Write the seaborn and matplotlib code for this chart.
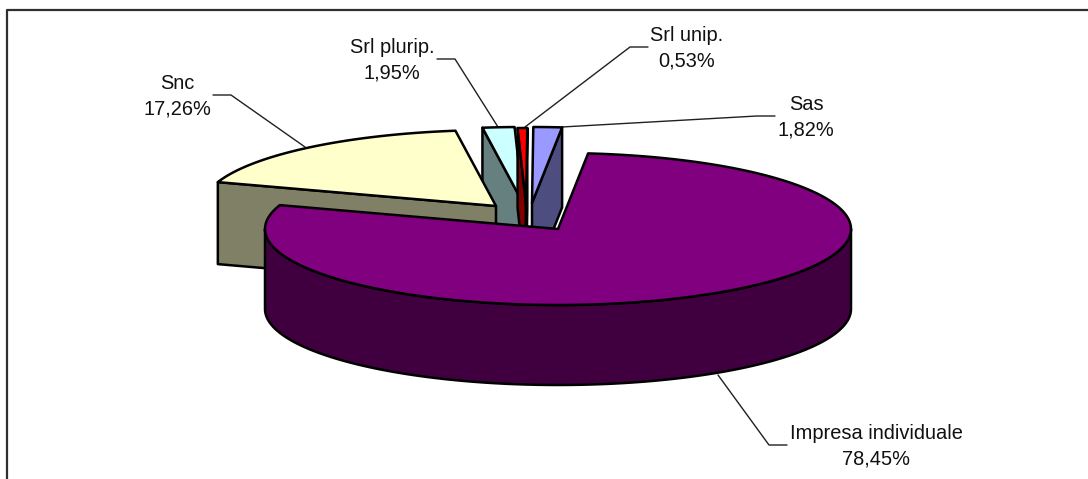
import numpy as np
import matplotlib
matplotlib.use("Agg")
import matplotlib.pyplot as plt
from matplotlib.patches import Polygon
import seaborn as sns

names = ["Impresa individuale", "Snc", "Srl plurip.", "Srl unip.", "Sas"]
shares = [78.45, 17.26, 1.95, 0.53, 1.82]
top_colors = ["#800080", "#FFFFCC", "#CCFFFF", "#FF0000", "#9999FF"]

# pixel layout of the exploded pie
apex_x = [558, 496, 523, 526, 532]
apex_y = [229, 206, 203, 204, 203]
depth = [80, 82, 80, 80, 80]
RX, RY = 293, 76
START = 5.9
# excel bends the small slices a bit, so edges get nudged (deg)
edge_shift = [0, 0, 1.6, 0.9, 0.9, 0]

label_x = [876, 177, 392, 687, 806]
label_y = [446, 96, 60, 48, 117]
# leader lines: slice end, elbow, text end
lead_x = [[718, 769, 787], [305, 231, 213], [498, 455, 437], [525, 630, 648], [562, 757, 775]]
lead_y = [[375, 445, 445], [147, 95, 95], [127, 59, 59], [127, 47, 47], [127, 116, 116]]

sns.set_theme(style="white")
plt.rcParams["font.family"] = ["Liberation Sans", "DejaVu Sans"]
palette = sns.color_palette(top_colors)

fig, ax = plt.subplots(figsize=(10.88, 4.79), dpi=100)
ax.set_position([0, 0, 1, 1])
ax.set_xlim(0, 1088)
ax.set_ylim(479, 0)
ax.axis("off")

# chart frame, only top and left are inside the crop
ax.plot([6.5, 6.5, 1088], [479, 9.5, 9.5], color="#303030", lw=1.6, zorder=1)

edges = START + np.cumsum([0] + shares) * 3.6
edges = edges - (edges[-1] - edges[0] - 360) * np.arange(6) / 5 + np.array(edge_shift)


def rim(a, cx, cy):
    r = np.radians(a)
    return cx + RX * np.sin(r), cy - RY * np.cos(r)


def patch(xs, ys, color, z):
    ax.add_patch(Polygon(np.column_stack([xs, ys]), closed=True, facecolor=color,
                         edgecolor="black", lw=1.8, joinstyle="round", zorder=z))


# back slices first, the big purple one goes last
order = [2, 1, 3, 4, 0]
for z, i in enumerate(order):
    a0, a1 = edges[i], edges[i + 1]
    cx, cy, h = apex_x[i], apex_y[i], depth[i]
    col = palette[i]
    wall = tuple(v * 0.5 for v in col)
    base = 10 + z * 5
    # radial faces that look at the viewer
    if np.sin(np.radians(a0)) < 0:
        x, y = rim(a0, cx, cy)
        patch([cx, x, x, cx], [cy, y, y + h, cy + h], wall, base)
    if np.sin(np.radians(a1)) > 0:
        x, y = rim(a1, cx, cy)
        patch([cx, x, x, cx], [cy, y, y + h, cy + h], wall, base + 1)
    # outer wall, only front half of the rim
    lo, hi = max(a0, 90), min(a1, 270)
    if hi > lo:
        t = np.linspace(lo, hi, 120)
        x, y = rim(t, cx, cy)
        patch(np.r_[x, x[::-1]], np.r_[y, y[::-1] + h], wall, base + 2)
    t = np.linspace(a0, a1, 200)
    x, y = rim(t, cx, cy)
    patch(np.r_[cx, x], np.r_[cy, y], col, base + 3)

for i, name in enumerate(names):
    ax.plot(lead_x[i], lead_y[i], color="#202020", lw=1.0, zorder=2)
    pct = f"{shares[i]:.2f}".replace(".", ",") + "%"
    ax.text(label_x[i], label_y[i], name + "\n" + pct, ha="center", va="center",
            fontsize=14.4, color="#111111", linespacing=1.45, zorder=40)

fig.savefig("out.png", dpi=100)
